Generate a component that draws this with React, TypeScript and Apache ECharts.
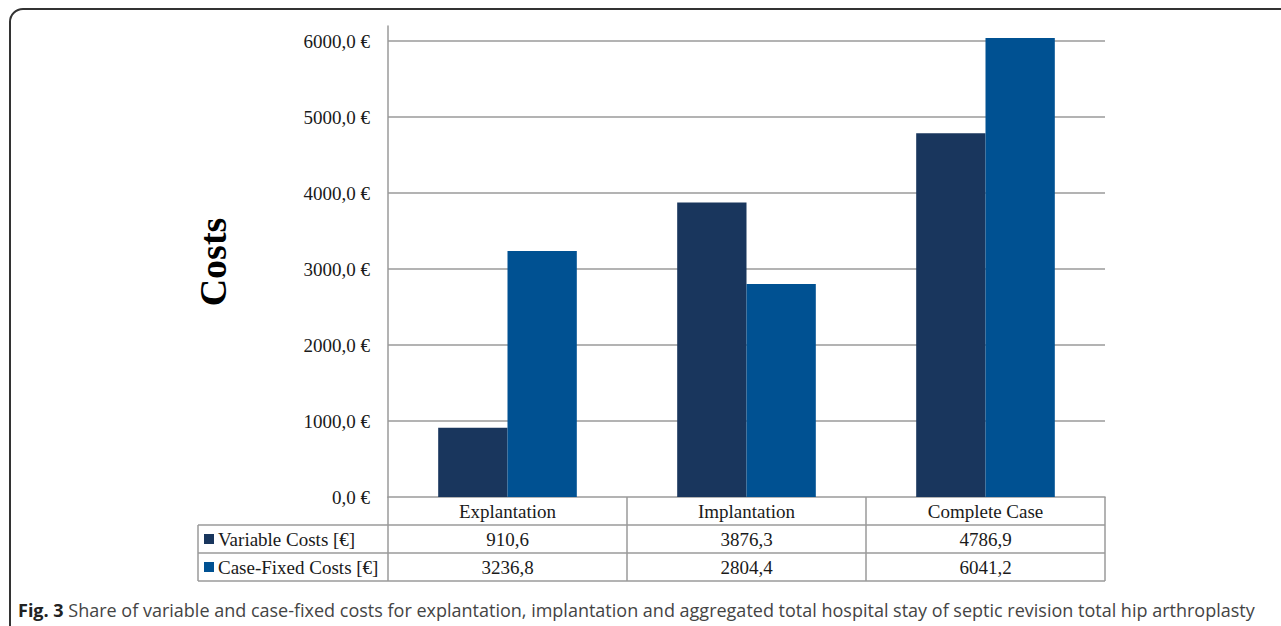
import React, { useEffect, useRef } from 'react';
import * as echarts from 'echarts';

const categories = ['Explantation', 'Implantation', 'Complete Case'];
const seriesNames = ['Variable Costs [€]', 'Case-Fixed Costs [€]'];
const variableCosts = [910.6, 3876.3, 4786.9];
const caseFixedCosts = [3236.8, 2804.4, 6041.2];
const yAxisTitle = 'Costs';
const captionBold = 'Fig. 3';
const captionText =
  'Share of variable and case-fixed costs for explantation, implantation and aggregated total hospital stay of septic revision total hip arthroplasty';

const COLORS = ['#19365D', '#005192'];
const SERIF = '"Liberation Serif", "Times New Roman", serif';

const fmt = (v: number) => v.toFixed(1).replace('.', ',');

export default function App() {
  const ref = useRef<HTMLDivElement>(null);

  useEffect(() => {
    if (!ref.current) return;
    const chart = echarts.init(ref.current, undefined, { renderer: 'svg' });

    const GL = 388;
    const GT = 26;
    const GR = 1105;
    const GB = 497;
    const ROW = 28;
    const HEAD_L = 198;
    const bandW = (GR - GL) / categories.length;
    const lineColor = '#9a9a9a';
    const lw = 1.5;

    const graphics: any[] = [];
    // frame
    graphics.push({
      type: 'rect',
      shape: { x: 10, y: 9, width: 1300, height: 650, r: [13, 0, 0, 0] },
      style: { fill: 'none', stroke: '#333', lineWidth: 2 },
      z: 10,
    });
    // table horizontal lines
    for (let r = 1; r <= 3; r++) {
      const y = GB + ROW * r;
      graphics.push({
        type: 'line',
        shape: { x1: HEAD_L, y1: y, x2: GR, y2: y },
        style: { stroke: lineColor, lineWidth: lw },
      });
    }
    // vertical lines
    graphics.push({
      type: 'line',
      shape: { x1: HEAD_L, y1: GB + ROW, x2: HEAD_L, y2: GB + ROW * 3 },
      style: { stroke: lineColor, lineWidth: lw },
    });
    for (let i = 0; i <= categories.length; i++) {
      const x = GL + bandW * i;
      graphics.push({
        type: 'line',
        shape: { x1: x, y1: GB, x2: x, y2: GB + ROW * 3 },
        style: { stroke: lineColor, lineWidth: lw },
      });
    }
    // row headers and values
    const values = [variableCosts, caseFixedCosts];
    seriesNames.forEach((name, r) => {
      const cy = GB + ROW * (r + 1) + ROW / 2;
      graphics.push({
        type: 'rect',
        shape: { x: 204, y: cy - 5, width: 10, height: 10 },
        style: { fill: COLORS[r] },
      });
      graphics.push({
        type: 'text',
        x: 218,
        y: cy,
        style: {
          text: name,
          font: `19px ${SERIF}`,
          fill: '#1a1a1a',
          verticalAlign: 'middle',
          align: 'left',
        },
      });
      values[r].forEach((v, i) => {
        graphics.push({
          type: 'text',
          x: GL + bandW * (i + 0.5),
          y: cy,
          style: {
            text: fmt(v),
            font: `19px ${SERIF}`,
            fill: '#1a1a1a',
            verticalAlign: 'middle',
            align: 'center',
          },
        });
      });
    });
    // y axis title
    graphics.push({
      type: 'text',
      x: 213,
      y: 262,
      rotation: Math.PI / 2,
      style: {
        text: yAxisTitle,
        font: `bold 38px ${SERIF}`,
        fill: '#000',
        align: 'center',
        verticalAlign: 'middle',
      },
    });
    // caption
    graphics.push({
      type: 'text',
      x: 18,
      y: 610,
      style: {
        text: `{b|${captionBold}} ${captionText}`,
        font: '18px "Open Sans", sans-serif',
        fill: '#444',
        verticalAlign: 'middle',
        align: 'left',
        rich: {
          b: { font: 'bold 18px "Open Sans", sans-serif', fill: '#222' },
        },
      },
    });

    chart.setOption({
      animation: false,
      backgroundColor: '#fff',
      grid: { left: GL, top: GT, right: 1281 - GR, bottom: 626 - GB },
      xAxis: {
        type: 'category',
        data: categories,
        axisLine: { show: true, lineStyle: { color: lineColor, width: lw } },
        axisTick: { show: false },
        axisLabel: {
          margin: 4,
          lineHeight: 20,
          fontFamily: SERIF,
          fontSize: 19,
          color: '#1a1a1a',
        },
      },
      yAxis: {
        type: 'value',
        min: 0,
        max: 6200,
        interval: 1000,
        axisLine: { show: true, lineStyle: { color: lineColor, width: lw } },
        axisTick: { show: false },
        axisLabel: {
          margin: 18,
          showMaxLabel: false,
          fontFamily: SERIF,
          fontSize: 19,
          color: '#1a1a1a',
          formatter: (v: number) => (v % 1000 === 0 ? `${fmt(v)} €` : ''),
        },
        splitLine: {
          show: true,
          showMinLine: false,
          showMaxLine: false,
          lineStyle: { color: lineColor, width: lw },
        },
      },
      series: [
        {
          name: seriesNames[0],
          type: 'bar',
          data: variableCosts,
          itemStyle: { color: COLORS[0] },
          barGap: '0%',
          barCategoryGap: '42%',
        },
        {
          name: seriesNames[1],
          type: 'bar',
          data: caseFixedCosts,
          itemStyle: { color: COLORS[1] },
          barGap: '0%',
          barCategoryGap: '42%',
        },
      ],
      graphic: graphics,
    });

    return () => chart.dispose();
  }, []);

  return (
    <div
      ref={ref}
      style={{ position: 'fixed', left: 0, top: 0, width: 1281, height: 626 }}
    />
  );
}
